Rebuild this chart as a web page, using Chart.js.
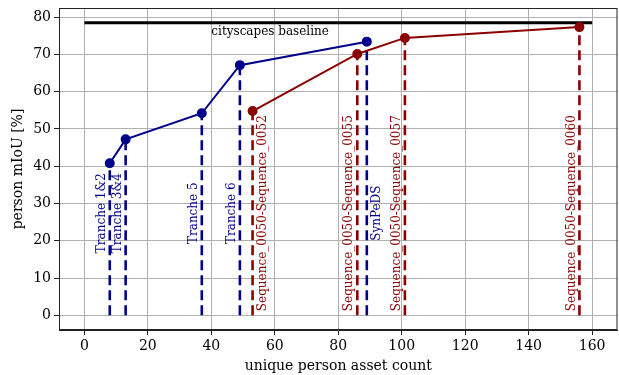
<!DOCTYPE html>
<html>
<head>
<meta charset="utf-8">
<script src="https://cdn.jsdelivr.net/npm/chart.js@4"></script>
<style>
  html, body { margin: 0; padding: 0; background: #fff; }
  #wrap { width: 619px; height: 375px; }
</style>
</head>
<body>
<div id="wrap"><canvas id="myChart" width="619" height="375"></canvas></div>
<script>
// tranches (blue)
const trancheNames = ["Tranche 1&2", "Tranche 3&4", "Tranche 5", "Tranche 6", "SynPeDS"];
const trancheCounts = [8, 13, 37, 49, 89];
const trancheIoU = [40.8, 47.2, 54.2, 67.1, 73.4];

// sequences (red)
const seqNames = ["Sequence_0050-Sequence_0052", "Sequence_0050-Sequence_0055",
                  "Sequence_0050-Sequence_0057", "Sequence_0050-Sequence_0060"];
const seqCounts = [53, 86, 101, 156];
const seqIoU = [54.8, 70.1, 74.4, 77.3];

const baselineIoU = 78.5;
const baselineRange = [0, 160];
const baselineLabel = "cityscapes baseline";

const xTicks = [0, 20, 40, 60, 80, 100, 120, 140, 160];
const yTicks = [0, 10, 20, 30, 40, 50, 60, 70, 80];

const BLUE = '#00008b';
const RED = '#8b0000';
const FONT = "'DejaVu Serif', serif";
// labels drawn on the right side of their dashed line
const rightSide = ["Sequence_0050-Sequence_0052", "SynPeDS"];

function dropLines(names, xs, ys, color) {
    return names.map(function (n, i) {
        return {
            label: n,
            data: [{x: xs[i], y: 0}, {x: xs[i], y: ys[i]}],
            showLine: true,
            borderColor: color,
            borderWidth: 2.6,
            borderDash: [10, 5],
            pointRadius: 0,
            order: 2,
            isDrop: true,
            textColor: color
        };
    });
}

const labelPlugin = {
    id: 'labels',
    afterDatasetsDraw(chart) {
        const c = chart.ctx, xs = chart.scales.x, ys = chart.scales.y, a = chart.chartArea;
        c.save();
        // frame
        c.strokeStyle = '#222';
        c.lineWidth = 1;
        c.strokeRect(a.left + 0.5, a.top + 0.5, a.right - a.left - 1, a.bottom - a.top - 1);
        // baseline label
        c.fillStyle = '#000';
        c.font = '12px ' + FONT;
        c.textAlign = 'left';
        c.textBaseline = 'top';
        c.fillText(baselineLabel, xs.getPixelForValue(40), ys.getPixelForValue(baselineIoU) + 3);
        // rotated drop labels
        chart.data.datasets.forEach(function (ds) {
            if (!ds.isDrop) return;
            const px = xs.getPixelForValue(ds.data[0].x);
            const py = ys.getPixelForValue(27.4);
            const right = rightSide.indexOf(ds.label) >= 0;
            c.save();
            c.translate(px + (right ? 4 : -2), py);
            c.rotate(-Math.PI / 2);
            c.fillStyle = ds.textColor;
            c.textAlign = 'center';
            c.textBaseline = right ? 'top' : 'bottom';
            c.fillText(ds.label, 0, 0);
            c.restore();
        });
        c.restore();
    }
};

const ctx = document.getElementById("myChart");
const myChart = new Chart(ctx, {
    type: 'scatter',
    data: {
        datasets: [
            {
                label: 'tranches',
                data: trancheCounts.map((v, i) => ({x: v, y: trancheIoU[i]})),
                showLine: true,
                borderColor: BLUE,
                backgroundColor: BLUE,
                borderWidth: 2,
                pointRadius: 4,
                order: 0
            },
            {
                label: 'sequences',
                data: seqCounts.map((v, i) => ({x: v, y: seqIoU[i]})),
                showLine: true,
                borderColor: RED,
                backgroundColor: RED,
                borderWidth: 2,
                pointRadius: 4,
                order: 0
            },
            ...dropLines(trancheNames, trancheCounts, trancheIoU, BLUE),
            ...dropLines(seqNames, seqCounts, seqIoU, RED),
            {
                label: 'baseline',
                data: baselineRange.map(v => ({x: v, y: baselineIoU})),
                showLine: true,
                borderColor: '#000',
                borderWidth: 3,
                pointRadius: 0,
                order: 3
            }
        ]
    },
    options: {
        responsive: false,
        animation: false,
        layout: { autoPadding: false, padding: { top: 8, right: 1.5, left: 0, bottom: 0 } },
        plugins: {
            legend: { display: false },
            tooltip: { enabled: false }
        },
        scales: {
            x: {
                type: 'linear',
                min: -8,
                max: 168,
                afterBuildTicks: function (s) { s.ticks = xTicks.map(v => ({value: v})); },
                afterFit: function (s) { s.height = 45; s.paddingLeft = 0; s.paddingRight = 0; },
                grid: { color: '#b0b0b0', lineWidth: 1, tickColor: '#222', tickLength: 5 },
                border: { color: '#222' },
                ticks: { color: '#000', font: { family: FONT, size: 14 }, padding: 3, maxRotation: 0 },
                title: { display: true, text: 'unique person asset count', color: '#000',
                         font: { family: FONT, size: 14 }, padding: { top: -2, bottom: 0 } }
            },
            y: {
                type: 'linear',
                min: -3.925,
                max: 82.425,
                afterBuildTicks: function (s) { s.ticks = yTicks.map(v => ({value: v})); },
                afterFit: function (s) { s.width = 59; s.paddingTop = 0; s.paddingBottom = 0; },
                grid: { color: '#b0b0b0', lineWidth: 1, tickColor: '#222', tickLength: 5 },
                border: { color: '#222' },
                ticks: { color: '#000', font: { family: FONT, size: 14 }, padding: 3 },
                title: { display: true, text: 'person mIoU [%]', color: '#000',
                         font: { family: FONT, size: 14 }, padding: { top: 10, bottom: 0 } }
            }
        }
    },
    plugins: [labelPlugin]
});
</script>
</body>
</html>
